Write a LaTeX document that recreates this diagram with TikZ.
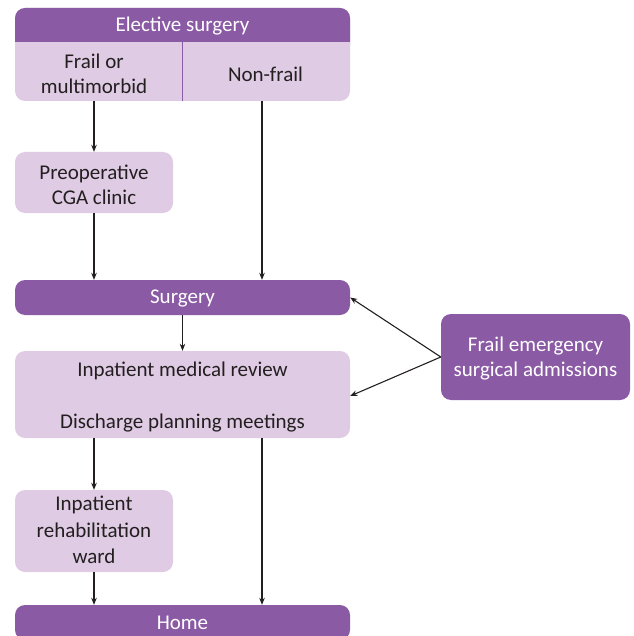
\documentclass[tikz,border=0pt]{standalone}
\usepackage{fontspec}
\setmainfont{Carlito}
\usetikzlibrary{arrows.meta}
\definecolor{dpurple}{RGB}{139,90,165}
\definecolor{lpurple}{RGB}{223,203,227}
\definecolor{ink}{RGB}{35,31,32}
\begin{document}
\begin{tikzpicture}[x=1pt,y=-1pt,
  txt/.style={align=center,inner sep=0pt,font=\fontsize{21}{25}\selectfont,text=ink},
  wtxt/.style={txt,text=white},
  lbox/.style={fill=lpurple,rounded corners=10pt,inner sep=0pt},
  dbox/.style={fill=dpurple,rounded corners=10pt,inner sep=0pt},
  arr/.style={draw=ink,line width=1.1pt,-{Stealth[length=7pt,width=5.5pt]}}]
\useasboundingbox (0,0) rectangle (633,636);
% elective surgery composite box
\fill[lpurple,rounded corners=10pt] (15,8) rectangle (350,101);
\fill[dpurple,rounded corners=10pt] (15,8) rectangle (350,54);
\fill[lpurple] (15,42) rectangle (350,70);
\draw[dpurple,line width=1pt] (182,42) -- (182,101);
\node[wtxt] (elective) at (182.5,26.5) {Elective surgery};
\node[txt,minimum height=54pt] (frail) at (94,74) {Frail or\\multimorbid};
\node[txt,minimum height=54pt] (nonfrail) at (265.5,74) {Non-frail};
\coordinate (nf) at ([xshift=-3.5pt]nonfrail.south);
% boxes
\node[lbox,minimum width=158pt,minimum height=61pt,
  label={[txt,yshift=-2pt]center:{Preoperative\\CGA clinic}}] (preop) at (94,182.5) {};
\node[dbox,minimum width=335pt,minimum height=35pt,
  label={[wtxt,yshift=-1pt]center:Surgery}] (surgery) at (182.5,297.5) {};
\node[lbox,minimum width=335pt,minimum height=87pt,
  label={[txt,yshift=-2.5pt]center:{Inpatient medical review\\[27pt]Discharge planning meetings}}] (inpatient) at (182.5,394.5) {};
\node[dbox,minimum width=189pt,minimum height=86pt,
  label={[wtxt,yshift=-2pt]center:{Frail emergency\\surgical admissions}}] (emerg) at (535.5,357) {};
\node[lbox,minimum width=158pt,minimum height=82pt,
  label={[txt,font=\fontsize{21}{26.5}\selectfont,yshift=1pt]center:{Inpatient\\rehabilitation\\ward}}] (rehab) at (94,531) {};
\node[dbox,minimum width=335pt,minimum height=35pt,
  label={[wtxt]center:Home}] (home) at (182.5,622.5) {};
% connectors
\draw[arr] (frail.south) -- (preop.north);
\draw[arr] (preop.south) -- (preop.south |- surgery.north);
\draw[arr] (nf) -- (nf |- surgery.north);
\draw[arr] (surgery.south) -- (inpatient.north);
\draw[arr] (emerg.west) -- (surgery.east);
\draw[arr] (emerg.west) -- ([yshift=-1.5pt]inpatient.east);
\draw[arr] (rehab.north |- inpatient.south) -- (rehab.north);
\draw[arr] (nf |- inpatient.south) -- (nf |- home.north);
\draw[arr] (rehab.south) -- (rehab.south |- home.north);
\end{tikzpicture}
\end{document}
